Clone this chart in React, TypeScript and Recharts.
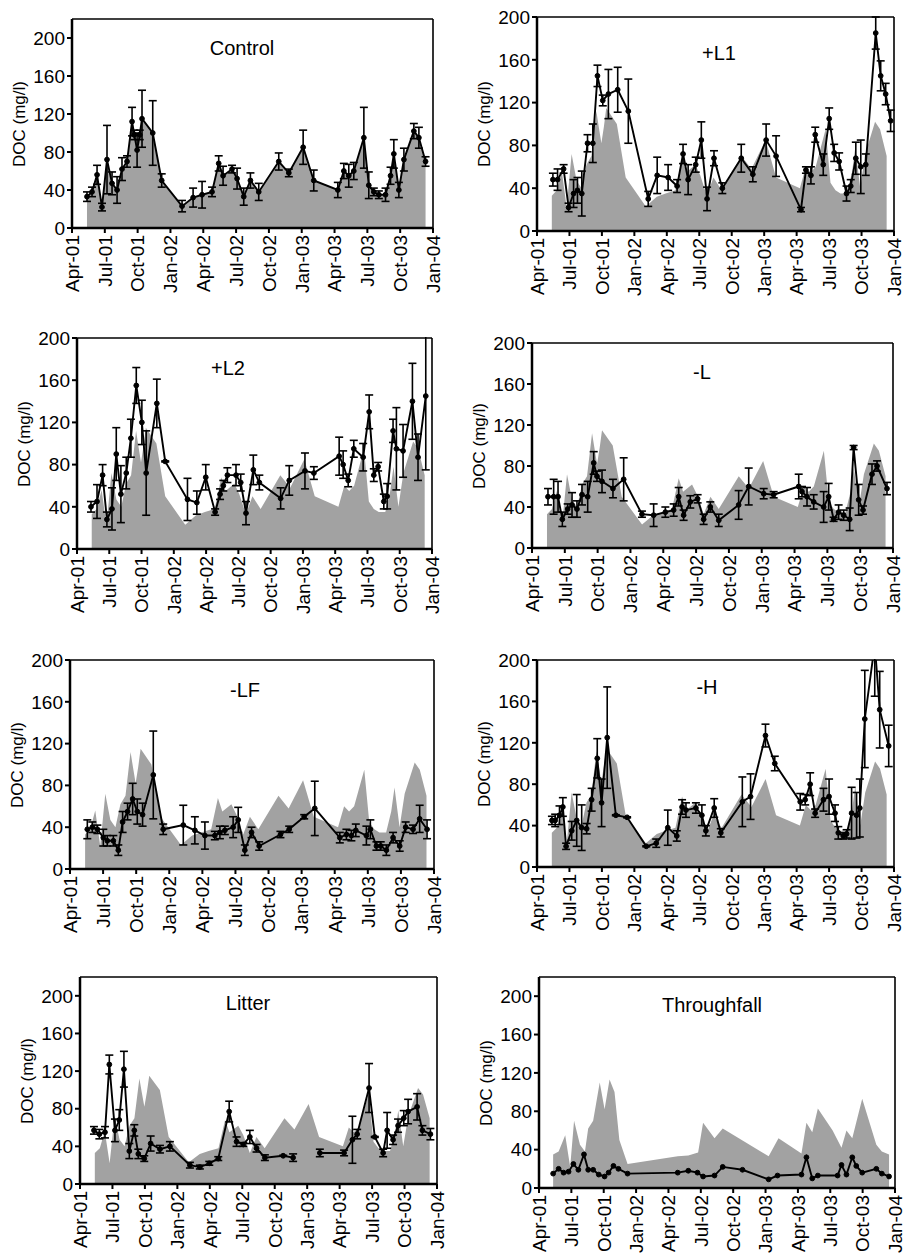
import { ComposedChart, Area, Line, XAxis, YAxis, ErrorBar, ReferenceLine } from "recharts";

const FONT = '"Liberation Sans", Arial, Helvetica, sans-serif';

// x = months after Apr-01
const tickMonths = [0, 3, 6, 9, 12, 15, 18, 21, 24, 27, 30, 33];
const tickLabels = ["Apr-01", "Jul-01", "Oct-01", "Jan-02", "Apr-02", "Jul-02", "Oct-02", "Jan-03", "Apr-03", "Jul-03", "Oct-03", "Jan-04"];
const yTicks = [0, 40, 80, 120, 160, 200];

// Control (also the grey reference in the other panels)
const controlM = [1.37, 1.83, 2.29, 2.74, 3.2, 3.66, 4.12, 4.57, 5.03, 5.49, 5.7, 5.95, 6.19, 6.4, 7.38, 8.2, 10.06, 11.07, 11.89, 12.8, 13.41, 13.81, 14.63, 15.09, 15.7, 16.31, 17.07, 18.9, 19.82, 21.13, 22.1, 24.3, 24.85, 25.3, 25.76, 26.68, 27.13, 27.59, 28.05, 28.66, 29.12, 29.42, 29.88, 30.34, 31.25, 31.71, 32.32];
const controlV = [33, 38, 56, 22, 72, 47, 40, 62, 70, 112, 98, 82, 98, 115, 100, 50, 23, 32, 35, 38, 68, 55, 62, 52, 33, 50, 38, 70, 58, 85, 50, 40, 60, 55, 60, 95, 45, 38, 35, 35, 55, 78, 40, 72, 102, 95, 70];
const controlE = [5, 5, 10, 4, 36, 12, 14, 12, 6, 15, 5, 18, 5, 30, 34, 7, 6, 10, 14, 5, 8, 10, 4, 11, 9, 8, 9, 9, 4, 18, 11, 8, 8, 12, 9, 32, 14, 4, 4, 7, 9, 15, 8, 12, 8, 11, 5];

const l1M = [1.47, 1.9, 2.46, 2.92, 3.38, 3.74, 4.14, 4.67, 5.16, 5.59, 6.08, 6.6, 7.46, 8.44, 10.28, 11.11, 12.12, 12.95, 13.5, 13.97, 14.67, 15.19, 15.72, 16.36, 17.13, 18.88, 19.95, 21.18, 22.1, 24.4, 24.86, 25.32, 25.72, 26.46, 27.01, 27.47, 27.93, 28.61, 29.0, 29.47, 29.93, 30.39, 31.31, 31.77, 32.23, 32.69];
const l1V = [48, 48, 58, 22, 35, 38, 35, 82, 82, 145, 122, 128, 132, 112, 30, 52, 50, 42, 72, 48, 62, 85, 30, 68, 40, 68, 53, 85, 70, 20, 57, 52, 90, 62, 105, 73, 65, 35, 42, 68, 60, 62, 185, 145, 128, 103];
const l1E = [6, 10, 4, 4, 13, 12, 21, 8, 18, 10, 5, 23, 21, 30, 7, 17, 12, 6, 9, 14, 7, 17, 11, 7, 5, 13, 7, 15, 19, 2, 3, 8, 7, 10, 10, 8, 8, 7, 6, 15, 25, 10, 15, 14, 10, 10];

const l2M = [1.3, 1.86, 2.38, 2.78, 3.25, 3.65, 4.08, 4.58, 5.01, 5.51, 6.03, 6.43, 7.42, 8.2, 10.27, 11.14, 11.97, 12.84, 13.3, 13.6, 13.98, 14.78, 15.22, 15.71, 16.39, 16.95, 18.93, 19.73, 21.19, 22.02, 24.37, 24.74, 25.21, 25.73, 26.6, 27.16, 27.59, 27.99, 28.52, 28.83, 29.38, 29.69, 30.31, 31.18, 31.7, 32.42];
const l2V = [40, 45, 70, 28, 38, 90, 52, 72, 105, 155, 120, 72, 138, 83, 47, 44, 68, 35, 52, 60, 70, 70, 63, 34, 75, 63, 48, 65, 74, 72, 88, 80, 65, 95, 87, 130, 70, 78, 45, 50, 112, 95, 93, 140, 87, 145];
const l2E = [5, 16, 10, 7, 20, 25, 27, 15, 18, 17, 21, 40, 23, 0.5, 20, 11, 12, 3, 5, 5, 7, 10, 8, 11, 14, 7, 10, 14, 17, 6, 18, 13, 6, 8, 13, 16, 6, 4, 7, 12, 11, 39, 25, 36, 22, 70];

const minusLM = [1.46, 1.98, 2.38, 2.77, 3.26, 3.66, 4.11, 4.57, 5.09, 5.64, 5.94, 6.4, 7.4, 8.38, 10.05, 11.12, 12.19, 12.95, 13.41, 13.86, 14.47, 15.14, 15.69, 16.3, 17.07, 18.89, 19.81, 21.18, 22.09, 24.38, 24.68, 25.14, 25.75, 26.66, 27.12, 27.57, 28.03, 28.49, 29.04, 29.4, 29.86, 30.26, 31.08, 31.54, 32.45];
const minusLV = [50, 50, 50, 28, 38, 42, 38, 52, 50, 83, 70, 65, 58, 67, 33, 32, 35, 37, 50, 32, 45, 48, 28, 40, 27, 42, 60, 53, 52, 60, 55, 50, 45, 40, 50, 28, 35, 32, 28, 98, 47, 37, 72, 80, 58];
const minusLE = [8, 17, 15, 7, 5, 12, 8, 10, 15, 11, 5, 11, 9, 21, 3, 11, 5, 6, 9, 5, 6, 4, 5, 5, 6, 14, 18, 5, 3, 12, 5, 9, 7, 15, 13, 2, 7, 5, 11, 2, 15, 4, 10, 5, 6];

const lfM = [1.57, 2.02, 2.48, 3.02, 3.38, 3.93, 4.38, 4.77, 5.22, 5.68, 6.1, 6.58, 7.55, 8.45, 10.27, 11.32, 12.23, 13.13, 13.59, 14.04, 14.79, 15.25, 15.85, 16.46, 17.15, 19.08, 19.87, 21.23, 22.19, 24.46, 25.06, 25.51, 25.91, 26.87, 27.23, 27.78, 28.17, 28.68, 29.29, 29.89, 30.43, 31.1, 31.7, 32.37];
const lfV = [38, 40, 38, 30, 27, 27, 18, 45, 55, 67, 55, 52, 90, 38, 42, 37, 32, 32, 35, 37, 40, 47, 18, 35, 22, 33, 38, 50, 58, 30, 33, 32, 37, 32, 38, 22, 22, 18, 30, 22, 40, 38, 48, 38];
const lfE = [9, 5, 4, 8, 5, 5, 5, 10, 8, 15, 12, 11, 42, 5, 19, 13, 13, 4, 6, 4, 10, 12, 5, 5, 4, 3, 3, 2, 26, 5, 5, 5, 6, 9, 9, 4, 4, 5, 5, 5, 5, 4, 13, 9];

const hM = [1.38, 1.68, 2.08, 2.39, 2.69, 3.21, 3.67, 4.13, 4.59, 5.05, 5.57, 5.97, 6.49, 7.29, 8.33, 10.1, 11.02, 12.09, 12.92, 13.41, 13.77, 14.69, 15.24, 15.61, 16.38, 16.99, 18.98, 19.74, 21.12, 21.98, 24.33, 24.79, 25.25, 25.71, 26.48, 27.0, 27.55, 27.85, 28.31, 28.62, 29.08, 29.54, 29.84, 30.3, 31.22, 31.68, 32.51];
const hV = [45, 45, 50, 58, 20, 35, 45, 38, 37, 65, 105, 62, 125, 50, 48, 20, 23, 38, 30, 58, 55, 57, 50, 35, 57, 33, 63, 68, 127, 100, 63, 65, 80, 52, 65, 68, 52, 33, 30, 32, 52, 50, 57, 143, 215, 152, 117];
const hE = [4, 6, 9, 9, 3, 9, 25, 22, 5, 11, 19, 23, 49, 0.5, 0.5, 0.5, 4, 17, 5, 7, 7, 5, 10, 5, 9, 4, 24, 22, 11, 7, 8, 5, 11, 4, 11, 17, 8, 6, 3, 4, 25, 22, 28, 47, 50, 37, 20];

const litterM = [1.29, 1.79, 2.31, 2.71, 3.23, 3.63, 4.06, 4.56, 5.02, 5.39, 5.94, 6.53, 7.39, 8.31, 10.16, 11.08, 11.95, 12.78, 13.79, 14.47, 15.09, 15.7, 16.32, 17.09, 18.78, 19.7, 21.0, 22.17, 24.41, 25.18, 25.62, 26.72, 27.25, 28.02, 28.39, 28.94, 29.4, 29.93, 30.33, 31.16, 31.65, 32.39];
const litterV = [57, 53, 55, 127, 57, 68, 122, 35, 57, 32, 27, 43, 37, 40, 20, 18, 22, 27, 77, 45, 42, 50, 38, 28, 30, 28, null, 33, 33, 47, 53, 102, 50, 33, 57, 47, 62, 70, 77, 82, 57, 53];
const litterE = [4, 5, 6, 10, 12, 11, 19, 8, 6, 5, 3, 8, 4, 5, 3, 2, 2, 2, 11, 5, 2, 7, 4, 3, 0.5, 4, 0, 4, 3, 25, 5, 26, 0.5, 4, 19, 5, 7, 8, 13, 14, 5, 6];

const tfM = [1.31, 1.82, 2.28, 2.74, 3.19, 3.65, 4.17, 4.56, 5.02, 5.54, 6.08, 6.45, 6.9, 7.36, 8.21, 12.86, 13.84, 14.69, 15.21, 16.27, 17.03, 18.86, 21.29, 22.11, 24.33, 24.79, 25.33, 25.85, 27.68, 28.04, 28.5, 29.04, 29.41, 29.96, 31.27, 31.78, 32.45];
const tfV = [15, 20, 16, 17, 25, 19, 35, 19, 19, 14, 12, 16, 23, 20, 15, 16, 18, 16, 12, 13, 22, 19, 9, 13, 14, 32, 10, 13, 13, 24, 14, 32, 23, 16, 20, 15, 12];

// control mean at the throughfall sampling dates
const tfGreyM = [1.31, 1.82, 2.43, 2.89, 3.25, 3.8, 4.26, 4.56, 5.02, 5.63, 6.08, 6.54, 7.0, 7.45, 8.21, 12.86, 13.84, 14.75, 15.21, 16.27, 17.03, 21.29, 22.2, 24.33, 24.79, 25.33, 25.85, 27.22, 28.04, 28.5, 29.04, 29.96, 31.27, 31.78, 32.45];
const tfGreyV = [35, 38, 55, 22, 70, 45, 38, 62, 70, 110, 82, 113, 100, 50, 25, 33, 34, 37, 68, 52, 62, 33, 52, 36, 68, 58, 83, 60, 42, 60, 52, 93, 45, 38, 35];

const rows = (m: number[], v: (number | null)[], e?: number[]) =>
  m.map((x, i) => ({ m: x, v: v[i], e: e ? e[i] : 0 }));

const controlRows = rows(controlM, controlV, controlE);

function XTick({ x, y, payload }: any) {
  const label = tickLabels[tickMonths.indexOf(payload.value)];
  return (
    <text x={x} y={y} transform={`rotate(-90 ${x} ${y})`} textAnchor="end" dy="0.36em"
      fontSize={19} fontFamily={FONT} fill="#000">
      {label}
    </text>
  );
}

type Layout = { x0: number; x1: number; yTop: number; y0: number; top: number; tx: number; ty: number };

function Panel({ title, L, line, grey, err }: { title: string; L: Layout; line: any[]; grey: any[]; err: boolean }) {
  const yW = 60, mt = 14, mr = 12, xH = 70;
  const w = L.x1 - L.x0 + yW + mr;
  const h = L.y0 - L.yTop + mt + xH;
  return (
    <>
      <div style={{ position: "absolute", left: L.x0 - yW, top: L.yTop - mt }}>
        <ComposedChart width={w} height={h} margin={{ top: mt, right: mr, bottom: 0, left: 0 }}>
          <XAxis type="number" dataKey="m" domain={[0, 33]} ticks={tickMonths} interval={0}
            allowDataOverflow height={xH} tick={<XTick />} tickSize={5}
            axisLine={{ stroke: "#000", strokeWidth: 2.5 }} tickLine={{ stroke: "#000", strokeWidth: 2 }} />
          <YAxis type="number" domain={[0, L.top]} ticks={yTicks} interval={0} allowDataOverflow width={yW}
            tickSize={5} tick={{ fontSize: 19, fill: "#000", fontFamily: FONT }}
            axisLine={{ stroke: "#000", strokeWidth: 2.5 }} tickLine={{ stroke: "#000", strokeWidth: 2 }} />
          <Area data={grey} dataKey="v" type="linear" stroke="none" fill="#a2a2a2" fillOpacity={1}
            isAnimationActive={false} />
          <Line data={line} dataKey="v" type="linear" stroke="#000" strokeWidth={1.9}
            dot={{ r: 2.4, fill: "#000", stroke: "#000", strokeWidth: 1 }} connectNulls={false}
            isAnimationActive={false}>
            {err && <ErrorBar dataKey="e" direction="y" width={4} stroke="#000" strokeWidth={1.6} />}
          </Line>
          <ReferenceLine y={L.top} stroke="#000" strokeWidth={1.6} />
          <ReferenceLine x={33} stroke="#000" strokeWidth={1.6} />
        </ComposedChart>
      </div>
      {/* hide marks that run past the top of the frame */}
      <div style={{ position: "absolute", left: L.x0 + 2, top: L.yTop - 26, width: L.x1 - L.x0 + 6, height: 25, background: "#fff" }} />
      <div style={{ position: "absolute", left: L.tx, top: L.ty, transform: "translate(-50%, -50%)",
        fontFamily: FONT, fontSize: 20, whiteSpace: "nowrap", color: "#000" }}>
        {title}
      </div>
      <div style={{ position: "absolute", left: L.x0 - 52, top: (L.yTop + L.y0) / 2,
        transform: "translate(-50%, -50%) rotate(-90deg)", fontFamily: FONT, fontSize: 17,
        whiteSpace: "nowrap", color: "#000" }}>
        DOC (mg/l)
      </div>
    </>
  );
}

export default function App() {
  return (
    <div style={{ position: "absolute", left: 0, top: 0, width: 908, height: 1254, overflow: "hidden", background: "#fff" }}>
      <Panel title="Control" L={{ x0: 72, x1: 433, yTop: 19, y0: 228, top: 220, tx: 242, ty: 48 }}
        line={controlRows} grey={controlRows} err />
      <Panel title="+L1" L={{ x0: 537, x1: 894, yTop: 17, y0: 231, top: 200, tx: 719, ty: 53 }}
        line={rows(l1M, l1V, l1E)} grey={controlRows} err />
      <Panel title="+L2" L={{ x0: 77, x1: 432, yTop: 338, y0: 549, top: 200, tx: 228, ty: 368 }}
        line={rows(l2M, l2V, l2E)} grey={controlRows} err />
      <Panel title="-L" L={{ x0: 532, x1: 893, yTop: 343, y0: 548, top: 200, tx: 702, ty: 372 }}
        line={rows(minusLM, minusLV, minusLE)} grey={controlRows} err />
      <Panel title="-LF" L={{ x0: 70, x1: 434, yTop: 660, y0: 869, top: 200, tx: 245, ty: 690 }}
        line={rows(lfM, lfV, lfE)} grey={controlRows} err />
      <Panel title="-H" L={{ x0: 537, x1: 894, yTop: 660, y0: 867, top: 200, tx: 707, ty: 687 }}
        line={rows(hM, hV, hE)} grey={controlRows} err />
      <Panel title="Litter" L={{ x0: 80, x1: 437, yTop: 977, y0: 1184, top: 220, tx: 248, ty: 1003 }}
        line={rows(litterM, litterV, litterE)} grey={controlRows} err />
      <Panel title="Throughfall" L={{ x0: 539, x1: 895, yTop: 977, y0: 1188, top: 220, tx: 712, ty: 1005 }}
        line={rows(tfM, tfV)} grey={rows(tfGreyM, tfGreyV)} err={false} />
    </div>
  );
}
